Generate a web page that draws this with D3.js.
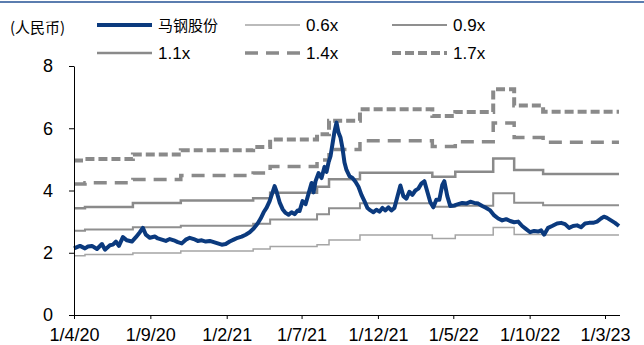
<!DOCTYPE html>
<html>
<head>
<meta charset="utf-8">
<style>
    body { margin: 0; background: #fff; }
    text { font-family: "Liberation Sans", Arial, sans-serif; }
    .cjk { font-family: "Noto Sans CJK SC", sans-serif; }
</style>
</head>
<body>
<svg id="container" width="644" height="345"></svg>
<script src="https://cdn.jsdelivr.net/npm/d3@7"></script>
<script>
// step dates for the PB bands (book value changes)
let bandDates = ["2020-04-01", "2020-04-23", "2020-07-28", "2020-11-01", "2021-03-26", "2021-04-29",
    "2021-08-01", "2021-08-25", "2021-10-26", "2022-03-20", "2022-05-05", "2022-07-20",
    "2022-08-31", "2022-10-28", "2023-03-29"]
let pb06 = [1.90, 1.94, 1.99, 2.06, 2.12, 2.20, 2.26, 2.41, 2.57, 2.46, 2.57, 2.81, 2.59, 2.57, 2.57]
let pb09 = [2.71, 2.75, 2.82, 2.87, 2.93, 3.07, 3.24, 3.43, 3.59, 3.48, 3.51, 3.91, 3.61, 3.53, 3.53]
let pb11 = [3.43, 3.47, 3.60, 3.68, 3.75, 3.93, 4.12, 4.36, 4.57, 4.44, 4.60, 5.03, 4.66, 4.53, 4.53]
let pb14 = [4.21, 4.25, 4.35, 4.48, 4.56, 4.77, 4.98, 5.32, 5.60, 5.41, 5.57, 6.17, 5.70, 5.55, 5.55]
let pb17 = [4.96, 5.01, 5.16, 5.29, 5.40, 5.64, 5.81, 6.24, 6.61, 6.39, 6.52, 7.25, 6.73, 6.53, 6.53]

// 马钢股份 share price
let priceDates = ["2020-04-01", "2020-04-13", "2020-04-23", "2020-04-29", "2020-05-07", "2020-05-17", "2020-05-27",
    "2020-06-02", "2020-06-12", "2020-06-18", "2020-06-24", "2020-06-30", "2020-07-08", "2020-07-16", "2020-07-26",
    "2020-08-03", "2020-08-11", "2020-08-17", "2020-08-23", "2020-08-31", "2020-09-10", "2020-09-16", "2020-09-24",
    "2020-10-02", "2020-10-10", "2020-10-18", "2020-10-26", "2020-11-03", "2020-11-11", "2020-11-19", "2020-11-27",
    "2020-12-05", "2020-12-13", "2020-12-21", "2020-12-29", "2021-01-06", "2021-01-14", "2021-01-22", "2021-01-30",
    "2021-02-07", "2021-02-15", "2021-02-23", "2021-03-03", "2021-03-11", "2021-03-19", "2021-03-27", "2021-04-04",
    "2021-04-10", "2021-04-16", "2021-04-22", "2021-04-28", "2021-05-04", "2021-05-08", "2021-05-12", "2021-05-18",
    "2021-05-24", "2021-05-30", "2021-06-05", "2021-06-11", "2021-06-17", "2021-06-23", "2021-06-27", "2021-07-03",
    "2021-07-09", "2021-07-15", "2021-07-21", "2021-07-25", "2021-07-29", "2021-08-04", "2021-08-10", "2021-08-16",
    "2021-08-20", "2021-08-24", "2021-08-28", "2021-09-01", "2021-09-05", "2021-09-09", "2021-09-13", "2021-09-17",
    "2021-09-21", "2021-09-25", "2021-09-29", "2021-10-05", "2021-10-11", "2021-10-17", "2021-10-23", "2021-10-29",
    "2021-11-04", "2021-11-10", "2021-11-16", "2021-11-22", "2021-11-28", "2021-12-04", "2021-12-10", "2021-12-16",
    "2021-12-22", "2021-12-28", "2022-01-03", "2022-01-09", "2022-01-15", "2022-01-21", "2022-01-27", "2022-02-02",
    "2022-02-08", "2022-02-14", "2022-02-20", "2022-02-26", "2022-03-04", "2022-03-10", "2022-03-16", "2022-03-22",
    "2022-03-28", "2022-04-03", "2022-04-09", "2022-04-13", "2022-04-19", "2022-04-25", "2022-05-03", "2022-05-11",
    "2022-05-19", "2022-05-27", "2022-06-04", "2022-06-12", "2022-06-20", "2022-06-28", "2022-07-06", "2022-07-14",
    "2022-07-22", "2022-07-30", "2022-08-07", "2022-08-15", "2022-08-23", "2022-08-31", "2022-09-08", "2022-09-16",
    "2022-09-24", "2022-10-02", "2022-10-10", "2022-10-18", "2022-10-24", "2022-10-30", "2022-11-07", "2022-11-15",
    "2022-11-25", "2022-12-03", "2022-12-11", "2022-12-19", "2022-12-27", "2023-01-04", "2023-01-12", "2023-01-20",
    "2023-01-28", "2023-02-05", "2023-02-13", "2023-02-21", "2023-02-27", "2023-03-05", "2023-03-13", "2023-03-21",
    "2023-03-29"]
let price = [2.14, 2.22, 2.14, 2.20, 2.22, 2.12, 2.28,
    2.10, 2.24, 2.26, 2.36, 2.22, 2.50, 2.40, 2.36,
    2.50, 2.66, 2.80, 2.58, 2.48, 2.52, 2.46, 2.42,
    2.38, 2.44, 2.40, 2.34, 2.30, 2.42, 2.48, 2.44,
    2.38, 2.40, 2.36, 2.38, 2.34, 2.30, 2.26, 2.28,
    2.36, 2.42, 2.48, 2.52, 2.58, 2.66, 2.78, 2.94,
    3.10, 3.30, 3.45, 3.66, 3.95, 4.14, 3.96, 3.62,
    3.40, 3.28, 3.22, 3.30, 3.24, 3.36, 3.34, 3.66,
    3.56, 3.90, 4.24, 3.94, 4.30, 4.56, 4.40, 4.76,
    4.60, 4.90, 5.10, 5.50, 5.90, 6.18, 5.86, 5.70,
    5.36, 4.90, 4.66, 4.46, 4.40, 4.28, 4.12, 3.86,
    3.66, 3.44, 3.36, 3.30, 3.38, 3.32, 3.44, 3.36,
    3.46, 3.36, 3.44, 3.80, 4.16, 3.82, 3.74, 3.96,
    3.86, 4.00, 4.06, 4.22, 4.30, 3.96, 3.62, 3.46,
    3.70, 3.70, 4.18, 4.30, 3.82, 3.50, 3.52, 3.56,
    3.60, 3.58, 3.64, 3.60, 3.58, 3.50, 3.44, 3.36,
    3.20, 3.10, 3.04, 3.08, 3.02, 2.98, 3.00, 2.86,
    2.76, 2.66, 2.70, 2.68, 2.72, 2.58, 2.80, 2.86,
    2.94, 2.96, 2.92, 2.80, 2.86, 2.88, 2.82, 2.94,
    2.96, 2.96, 3.00, 3.10, 3.16, 3.12, 3.04, 2.96,
    2.86]

let xTickDates = ["2020-04-01", "2020-09-01", "2021-02-01", "2021-07-01", "2021-12-01", "2022-05-01", "2022-10-01", "2023-03-01"]
let xTickLabels = ["1/4/20", "1/9/20", "1/2/21", "1/7/21", "1/12/21", "1/5/22", "1/10/22", "1/3/23"]
let yTicks = [0, 2, 4, 6, 8]

let parse = d3.timeParse("%Y-%m-%d")
let svg = d3.select("#container")

// top rule
svg.append("line").attr("x1", 0).attr("x2", 644).attr("y1", 2).attr("y2", 2)
    .attr("stroke", "#5b7daf").attr("stroke-width", 2)

let x = d3.scaleTime()
    .domain([parse("2020-04-01"), parse("2023-03-01")])
    .range([74, 605])
let y = d3.scaleLinear().domain([0, 8]).range([315, 66])

let series = [
    { name: "0.6x", values: pb06, color: "#a5a5a5", width: 1.5, dash: null },
    { name: "0.9x", values: pb09, color: "#8f8f8f", width: 2, dash: null },
    { name: "1.1x", values: pb11, color: "#8a8a8a", width: 2.5, dash: null },
    { name: "1.4x", values: pb14, color: "#8a8a8a", width: 3.5, dash: "13,8" },
    { name: "1.7x", values: pb17, color: "#8a8a8a", width: 4, dash: "9,4" }
]

let stepLine = d3.line()
    .x(d => x(d.date))
    .y(d => y(d.value))
    .curve(d3.curveStepAfter)

let plot = svg.append("g")
series.forEach(s => {
    let pts = bandDates.map((d, i) => ({ date: parse(d), value: s.values[i] }))
    plot.append("path")
        .attr("d", stepLine(pts))
        .attr("fill", "none")
        .attr("stroke", s.color)
        .attr("stroke-width", s.width)
        .attr("stroke-dasharray", s.dash)
})

let priceLine = d3.line()
    .x(d => x(d.date))
    .y(d => y(d.value))
    .curve(d3.curveLinear)
let pricePts = priceDates.map((d, i) => ({ date: parse(d), value: price[i] }))
plot.append("path")
    .attr("d", priceLine(pricePts))
    .attr("fill", "none")
    .attr("stroke", "#0b3a7e")
    .attr("stroke-width", 4)
    .attr("stroke-linejoin", "round")

// axes
let xAxis = d3.axisBottom(x)
    .tickValues(xTickDates.map(parse))
    .tickFormat((d, i) => xTickLabels[i])
    .tickSize(4).tickSizeOuter(0).tickPadding(9)
let gx = svg.append("g").attr("transform", "translate(0,315)").call(xAxis)
gx.select(".domain").attr("d", "M74,0.5H620")

let yAxis = d3.axisLeft(y).tickValues(yTicks).tickSize(5).tickSizeOuter(0).tickPadding(16)
let gy = svg.append("g").attr("transform", "translate(74,0)").call(yAxis)

svg.selectAll(".tick text").attr("font-size", 18).attr("fill", "#000")
    .attr("font-family", "'Liberation Sans', Arial, sans-serif")
svg.selectAll(".domain, .tick line").attr("stroke", "#000")

// unit label
svg.append("text").attr("class", "cjk").attr("x", 10).attr("y", 33)
    .attr("font-size", 15).text("(人民币)")

// legend
let legend = [
    { name: "马钢股份", color: "#0b3a7e", width: 4, dash: null, col: 0, row: 0 },
    { name: "0.6x", color: series[0].color, width: series[0].width, dash: null, col: 1, row: 0 },
    { name: "0.9x", color: series[1].color, width: series[1].width, dash: null, col: 2, row: 0 },
    { name: "1.1x", color: series[2].color, width: series[2].width, dash: null, col: 0, row: 1 },
    { name: "1.4x", color: series[3].color, width: series[3].width, dash: series[3].dash, col: 1, row: 1 },
    { name: "1.7x", color: series[4].color, width: series[4].width, dash: series[4].dash, col: 2, row: 1 }
]
let colX = [97, 245, 392]
let rowY = [25, 53]
let lg = svg.append("g").selectAll("g").data(legend).enter().append("g")
    .attr("transform", d => `translate(${colX[d.col]},${rowY[d.row]})`)
lg.append("line").attr("x1", 0).attr("x2", 55).attr("y1", 0).attr("y2", 0)
    .attr("stroke", d => d.color).attr("stroke-width", d => d.width)
    .attr("stroke-dasharray", d => d.dash)
lg.append("text").attr("x", 61).attr("y", 6)
    .attr("class", d => d.col === 0 && d.row === 0 ? "cjk" : null)
    .attr("font-size", d => d.col === 0 && d.row === 0 ? 15 : 17)
    .text(d => d.name)
</script>
</body>
</html>
